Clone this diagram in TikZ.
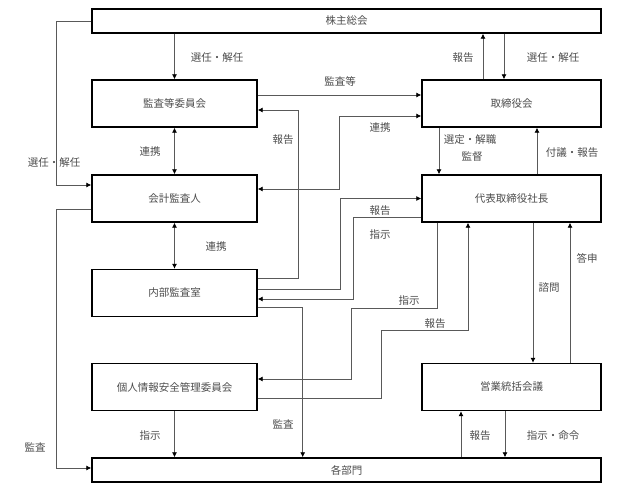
\documentclass[tikz,border=0pt]{standalone}
\usepackage{fontspec}
\setmainfont{Noto Sans CJK JP}
\usetikzlibrary{arrows.meta}

\begin{document}
\begin{tikzpicture}[x=1pt,y=-1pt]
    \tikzstyle{every node}=[font=\fontsize{10.5}{12}\selectfont,text=black!70]
    \tikzstyle{b} = [draw=black,line width=1.4pt,minimum width=165pt,minimum height=47pt,inner sep=0pt]
    \tikzstyle{bb} = [b,minimum width=179pt]
    \tikzstyle{w} = [b,minimum width=509pt,minimum height=24pt]
    \tikzstyle{c} = [draw=black!65,line width=.8pt,-{Latex[length=5pt,width=5pt,color=black]}]
    \tikzstyle{cc} = [c,{Latex[length=5pt,width=5pt,color=black]}-{Latex[length=5pt,width=5pt,color=black]}]
    \useasboundingbox (0,0) rectangle (619,492);
    % boxes
    \node [w] (S) at (346.5,21) {株主総会};
    \node [b] (A) at (174.5,103.5) {監査等委員会};
    \node [bb] (B) at (511.5,103.5) {取締役会};
    \node [b] (C) at (174.5,198.5) {会計監査人};
    \node [bb] (D) at (511.5,198.5) {代表取締役社長};
    \node [b] (E) at (174.5,293) {内部監査室};
    \node [b] (F) at (174.5,387) {個人情報安全管理委員会};
    \node [bb] (G) at (511.5,387) {営業統括会議};
    \node [w] (H) at (346.5,470) {各部門};
    % labels
    \node (t1) at (217,58) {選任・解任};
    \node (t2) at (463,58) {報告};
    \node (t3) at (553,58) {選任・解任};
    \node (t4) at (54,163) {選任・解任};
    \node (t5) at (150,152) {連携};
    \node (t6) at (340,81) {監査等};
    \node (t7) at (283,140) {報告};
    \node (t8) at (380,128) {連携};
    \node (t9) at (470,140) {選定・解職};
    \node (t10) at (472,157) {監督};
    \node (t11) at (572,153) {付議・報告};
    \node (t12) at (380,211) {報告};
    \node (t13) at (380,235) {指示};
    \node (t14) at (216,247) {連携};
    \node (t15) at (409,301) {指示};
    \node (t16) at (435,324) {報告};
    \node (t17) at (549,288) {諮問};
    \node (t18) at (587,258) {答申};
    \node (t19) at (35,447) {監査};
    \node (t20) at (283,424) {監査};
    \node (t21) at (150,436) {指示};
    \node (t22) at (480,436) {報告};
    \node (t23) at (553,436) {指示・命令};
    % connectors
    \draw [c] (A.north |- S.south) -- (A.north);
    \draw [c] ([xshift=-28.5pt]B.north) -- ([xshift=-28.5pt]B.north |- S.south);
    \draw [c] ([xshift=-7.5pt]B.north |- S.south) -- ([xshift=-7.5pt]B.north);
    \draw [c] (S.west) -- ++(-35,0) |- ([yshift=13.5pt]C.west);
    \draw [cc] (A.south) -- (C.north);
    \draw [cc] (C.south) -- (E.north);
    \draw [c] ([yshift=8.5pt]A.east) -- ([yshift=8.5pt]B.west);
    \draw [c] ([yshift=15pt]E.east) -- ++(41,0) |- ([yshift=-6.5pt]A.east);
    \draw [cc] ([yshift=9.5pt]C.east) -- ++(82,0) |- ([yshift=-12.5pt]B.west);
    \draw [c] ([xshift=-72.5pt]B.south) -- ([xshift=-72.5pt]D.north);
    \draw [c] ([xshift=25.5pt]D.north) -- ([xshift=25.5pt]B.south);
    \draw [c] ([yshift=4pt]E.east) -- ++(83,0) |- (D.west);
    \draw [c] ([yshift=-18.5pt]D.west) -- ++(-68,0) |- ([yshift=-6pt]E.east);
    \draw [c] ([yshift=-14pt]E.east) -- ++(45,0) coordinate (e1) -- (e1 |- H.north);
    \draw [c] ([xshift=-74.5pt]D.south) -- ++(0,86) -- ++(-86,0) |- ([yshift=8pt]F.east);
    \draw [c] ([yshift=-11pt]F.east) -- ++(124,0) -- ++(0,-68) -| ([xshift=-43.5pt]D.south);
    \draw [c] ([xshift=21.5pt]D.south) -- ([xshift=21.5pt]G.north);
    \draw [c] ([xshift=58.5pt]G.north) -- ([xshift=58.5pt]D.south);
    \draw [c] ([yshift=-10.5pt]C.west) -- ++(-35,0) |- ([yshift=2pt]H.west);
    \draw [c] (F.south) -- (F.south |- H.north);
    \draw [c] ([xshift=-50.5pt]G.south |- H.north) -- ([xshift=-50.5pt]G.south);
    \draw [c] ([xshift=-6.5pt]G.south) -- ([xshift=-6.5pt]G.south |- H.north);
  \end{tikzpicture}
\end{document}
